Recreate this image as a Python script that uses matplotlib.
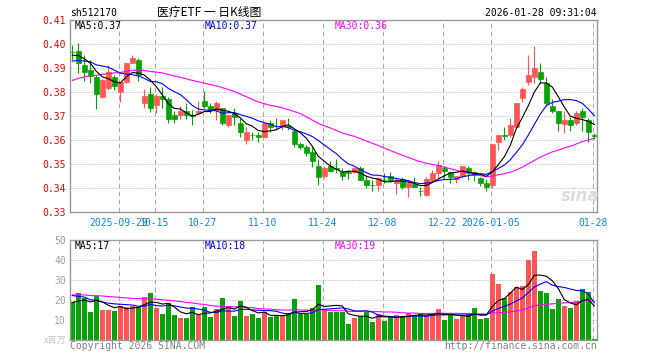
import numpy as np
import pandas as pd
import matplotlib
matplotlib.use("Agg")
import matplotlib.pyplot as plt

MONO = "DejaVu Sans Mono"
CJK = ["Noto Sans CJK SC", "DejaVu Sans"]

# trading days (Chinese holidays removed)
holidays = pd.to_datetime(pd.date_range("2025-10-01", "2025-10-08").tolist()
                          + ["2026-01-01", "2026-01-02"])
dates = [d for d in pd.bdate_range("2025-09-17", "2026-01-28") if d not in holidays]

opens = [0.3968, 0.3971, 0.3912, 0.3892, 0.3864, 0.3781, 0.3815, 0.3861, 0.3801, 0.3840,
         0.3922, 0.3933, 0.3756, 0.3792, 0.3746, 0.3783, 0.3769, 0.3704, 0.3704, 0.3722,
         0.3706, 0.3714, 0.3763, 0.3743, 0.3725, 0.3732, 0.3663, 0.3711, 0.3672, 0.3601,
         0.3622, 0.3622, 0.3614, 0.3669, 0.3660, 0.3658, 0.3659, 0.3639, 0.3583, 0.3572,
         0.3551, 0.3492, 0.3451, 0.3492, 0.3482, 0.3468, 0.3466, 0.3468, 0.3485, 0.3433,
         0.3414, 0.3413, 0.3434, 0.3450, 0.3422, 0.3436, 0.3404, 0.3415, 0.3389, 0.3371,
         0.3433, 0.3464, 0.3485, 0.3468, 0.3436, 0.3450, 0.3482, 0.3468, 0.3440, 0.3422,
         0.3413, 0.3593, 0.3619, 0.3621, 0.3656, 0.3774, 0.3843, 0.3864, 0.3882, 0.3839,
         0.3742, 0.3722, 0.3667, 0.3683, 0.3672, 0.3722, 0.3683, 0.3619]
highs = [0.3996, 0.4003, 0.3954, 0.3933, 0.3870, 0.3853, 0.3913, 0.3871, 0.3840, 0.3919,
         0.3954, 0.3940, 0.3811, 0.3822, 0.3792, 0.3822, 0.3781, 0.3722, 0.3742, 0.3753,
         0.3725, 0.3763, 0.3803, 0.3753, 0.3763, 0.3732, 0.3704, 0.3732, 0.3690, 0.3653,
         0.3635, 0.3635, 0.3669, 0.3683, 0.3690, 0.3683, 0.3690, 0.3639, 0.3593, 0.3579,
         0.3572, 0.3519, 0.3492, 0.3512, 0.3519, 0.3482, 0.3474, 0.3489, 0.3492, 0.3450,
         0.3433, 0.3444, 0.3464, 0.3468, 0.3440, 0.3444, 0.3433, 0.3444, 0.3406, 0.3444,
         0.3475, 0.3514, 0.3492, 0.3472, 0.3450, 0.3492, 0.3492, 0.3472, 0.3444, 0.3436,
         0.3583, 0.3621, 0.3653, 0.3690, 0.3753, 0.3822, 0.3954, 0.3992, 0.3919, 0.3861,
         0.3769, 0.3722, 0.3722, 0.3694, 0.3722, 0.3732, 0.3690, 0.3631]
lows = [0.3935, 0.3880, 0.3847, 0.3839, 0.3729, 0.3778, 0.3808, 0.3808, 0.3760, 0.3836,
        0.3919, 0.3847, 0.3732, 0.3718, 0.3711, 0.3732, 0.3669, 0.3669, 0.3686, 0.3686,
        0.3663, 0.3714, 0.3732, 0.3711, 0.3683, 0.3663, 0.3653, 0.3663, 0.3611, 0.3583,
        0.3601, 0.3590, 0.3611, 0.3635, 0.3640, 0.3640, 0.3642, 0.3572, 0.3561, 0.3533,
        0.3489, 0.3411, 0.3442, 0.3468, 0.3461, 0.3432, 0.3436, 0.3464, 0.3433, 0.3399,
        0.3388, 0.3388, 0.3419, 0.3426, 0.3375, 0.3396, 0.3361, 0.3404, 0.3367, 0.3367,
        0.3433, 0.3440, 0.3440, 0.3419, 0.3419, 0.3440, 0.3433, 0.3430, 0.3408, 0.3389,
        0.3399, 0.3558, 0.3600, 0.3614, 0.3653, 0.3760, 0.3829, 0.3836, 0.3836, 0.3742,
        0.3711, 0.3639, 0.3628, 0.3639, 0.3663, 0.3639, 0.3593, 0.3603]
closes = [0.3966, 0.3922, 0.3885, 0.3867, 0.3792, 0.3850, 0.3882, 0.3825, 0.3840, 0.3919,
          0.3940, 0.3871, 0.3783, 0.3735, 0.3783, 0.3769, 0.3686, 0.3686, 0.3722, 0.3704,
          0.3701, 0.3722, 0.3743, 0.3725, 0.3756, 0.3672, 0.3704, 0.3694, 0.3635, 0.3635,
          0.3620, 0.3614, 0.3669, 0.3653, 0.3658, 0.3683, 0.3656, 0.3583, 0.3572, 0.3544,
          0.3514, 0.3446, 0.3482, 0.3472, 0.3479, 0.3451, 0.3464, 0.3485, 0.3433, 0.3413,
          0.3412, 0.3440, 0.3432, 0.3433, 0.3433, 0.3404, 0.3422, 0.3404, 0.3387, 0.3436,
          0.3464, 0.3496, 0.3472, 0.3444, 0.3450, 0.3492, 0.3468, 0.3454, 0.3422, 0.3406,
          0.3583, 0.3621, 0.3617, 0.3663, 0.3753, 0.3811, 0.3871, 0.3899, 0.3853, 0.3756,
          0.3722, 0.3672, 0.3683, 0.3663, 0.3714, 0.3694, 0.3635, 0.3618]
# volume, millions
volumes = [18.8, 23.3, 20.8, 14.0, 22.2, 15.0, 15.0, 14.5, 17.0, 16.3,
           17.0, 16.7, 21.3, 23.3, 15.8, 12.8, 18.3, 12.5, 11.0, 11.0,
           16.3, 12.3, 16.3, 11.7, 15.5, 21.0, 17.0, 12.0, 19.7, 12.0,
           13.0, 11.0, 14.0, 11.7, 12.0, 12.0, 13.3, 20.5, 12.8, 12.8,
           15.8, 27.5, 15.0, 14.2, 14.2, 14.2, 8.0, 11.0, 12.0, 14.2,
           9.0, 13.0, 9.7, 12.0, 12.5, 11.7, 13.3, 12.0, 13.0, 12.5,
           13.3, 15.5, 10.0, 13.0, 10.5, 12.0, 13.3, 16.0, 10.5, 11.0,
           33.0, 28.0, 21.0, 24.0, 26.3, 27.0, 40.0, 44.5, 24.5, 23.5,
           15.5, 20.5, 17.0, 16.0, 19.3, 25.3, 24.0, 0.5]
# sessions before the window, only feed the moving averages (estimated)
prior_closes = [0.368, 0.370, 0.371, 0.373, 0.374, 0.376, 0.377, 0.378, 0.379,
                0.381, 0.383, 0.384, 0.386, 0.385, 0.387, 0.388, 0.387, 0.389, 0.390,
                0.390, 0.389, 0.391, 0.390, 0.392, 0.390, 0.393, 0.395, 0.396, 0.396]
prior_volumes = [20, 24, 22, 25, 19, 23, 21, 26, 22, 24, 20, 23, 25, 21, 22, 24, 23, 21,
                 24, 24, 27, 24, 28, 25, 24, 20, 18, 19, 18.2]

tick_dates = ["2025-09-29", "2025-10-15", "2025-10-27", "2025-11-10", "2025-11-24",
              "2025-12-08", "2025-12-22", "2026-01-05", "2026-01-28"]
tick_labels = ["2025-09-29", "10-15", "10-27", "11-10", "11-24",
               "12-08", "12-22", "2026-01-05", "01-28"]

RED = "#ff5555"
GREEN = "#06a306"
GRID = "#aaaaaa"
BORDER = "#999999"
BLUE_TXT = "#0a86d6"


def moving(prior, values, n):
    s = pd.Series(list(prior) + list(values)).rolling(n).mean()
    return s.values[len(prior):]


x = np.arange(len(dates))
o, h, l, c = map(np.array, (opens, highs, lows, closes))
colors = [RED if ci >= oi else GREEN for oi, ci in zip(o, c)]
date_str = [d.strftime("%Y-%m-%d") for d in dates]
tick_pos = [date_str.index(t) - 0.27 for t in tick_dates]

fig = plt.figure(figsize=(6.6, 3.6), dpi=100)
ax = fig.add_axes([70 / 660, 148 / 360, 527 / 660, 192 / 360])
axv = fig.add_axes([70 / 660, 20 / 360, 527 / 660, 100 / 360])

for a in (ax, axv):
    a.set_xlim(-0.383, -0.383 + 527 / 6)
    for sp in a.spines.values():
        sp.set_color(BORDER)
        sp.set_linewidth(1)
    a.set_xticks(tick_pos)
    a.grid(axis="x", color=GRID, lw=0.72, linestyle=(0, (5, 3)))
    a.grid(axis="y", color=GRID, lw=0.72, linestyle=(0, (1, 2)))
    a.set_axisbelow(True)
    a.tick_params(length=0)

# price panel
ax.set_ylim(0.33, 0.41)
ax.set_yticks(np.arange(0.33, 0.4101, 0.01))
ax.set_yticklabels([f"{v:.2f}" for v in np.arange(0.33, 0.4101, 0.01)],
                   color="#ee0000", fontsize=7, family=MONO)
ax.tick_params(axis="y", pad=3)
ax.set_xticklabels(tick_labels, color=BLUE_TXT, fontsize=7, family=MONO)
ax.tick_params(axis="x", pad=4)

ax.vlines(x, l, h, colors=colors, lw=0.8, zorder=2)
ax.bar(x, np.abs(c - o), bottom=np.minimum(o, c), width=0.75,
       color=colors, edgecolor=colors, lw=0.5, zorder=3)

ma5 = moving(prior_closes, closes, 5)
ma10 = moving(prior_closes, closes, 10)
ma30 = moving(prior_closes, closes, 30)
ax.plot(x, ma30, color="#ff00ff", lw=0.8, zorder=4)
ax.plot(x, ma10, color="#0000ff", lw=0.8, zorder=4)
ax.plot(x, ma5, color="black", lw=0.8, zorder=4)

# volume panel
axv.set_ylim(0, 50)
axv.set_yticks([10, 20, 30, 40, 50])
axv.set_yticklabels(["10", "20", "30", "40", "50"], color="#a0a0a0",
                    fontsize=7, family=MONO)
axv.tick_params(axis="y", pad=3)
axv.set_xticklabels([])
axv.bar(x, volumes, width=0.8, color=colors, zorder=2)
vma5 = moving(prior_volumes, volumes, 5)
vma10 = moving(prior_volumes, volumes, 10)
vma30 = moving(prior_volumes, volumes, 30)
axv.plot(x, vma30, color="#ff00ff", lw=0.8, zorder=4)
axv.plot(x, vma10, color="#0000ff", lw=0.8, zorder=4)
axv.plot(x, vma5, color="black", lw=0.8, zorder=4)


def ftext(px, py, s, **kw):
    kw.setdefault("fontsize", 7)
    kw.setdefault("family", MONO)
    kw.setdefault("va", "center")
    fig.text(px / 660, 1 - py / 360, s, **kw)


ftext(70, 13, "sh512170")
ftext(209, 12, "医疗ETF 一 日K线图", ha="center", fontsize=8.5, family=CJK)
ftext(597, 13, "2026-01-28 09:31:04", ha="right")

ftext(75, 26, f"MA5:{ma5[-1]:.2f}")
ftext(205, 26, f"MA10:{ma10[-1]:.2f}", color="#0000ff")
ftext(335, 26, f"MA30:{ma30[-1]:.2f}", color="#ff00ff")

ftext(75, 246, f"MA5:{int(vma5[-1])}")
ftext(205, 246, f"MA10:{int(vma10[-1])}", color="#0000ff")
ftext(335, 246, f"MA30:{int(vma30[-1])}", color="#ff00ff")

ftext(66, 340, "x百万", ha="right", color="#c0c0c0", family=CJK, fontsize=6.5)
ftext(70, 346, "Copyright 2026 SINA.COM", color="#808080")
ftext(597, 346, "http://finance.sina.com.cn", ha="right", color="#808080")

# faint watermark
ftext(580, 196, "sina", ha="center", fontsize=12, style="italic", weight="bold",
      family="DejaVu Sans", color="#dcdcdc")

fig.savefig("out.png", dpi=100)
